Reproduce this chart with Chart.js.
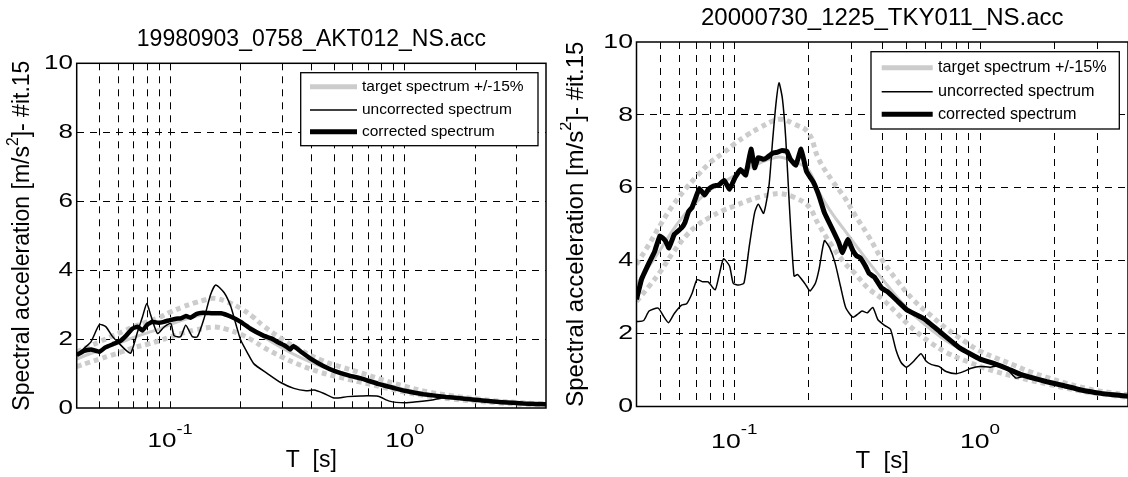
<!DOCTYPE html>
<html>
<head>
<meta charset="utf-8">
<script src="https://cdn.jsdelivr.net/npm/chart.js@4.4.1/dist/chart.umd.min.js"></script>
<style>
html, body { margin: 0; padding: 0; background: #fff; }
#wrap { position: relative; width: 1128px; height: 477px; overflow: hidden; }
.box { position: absolute; top: 0; height: 477px; }
</style>
</head>
<body>
<div id="wrap">
  <div class="box" style="left:0; width:560px"><canvas id="chartL"></canvas></div>
  <div class="box" style="left:560px; width:568px"><canvas id="chartR"></canvas></div>
</div>
<script>
// --- axes (shared) ---
const gridTicksX = [0.05, 0.06, 0.07, 0.08, 0.09, 0.1, 0.2, 0.3, 0.4, 0.5, 0.6, 0.7, 0.8, 0.9, 1, 2, 3];
const gridTicksY = [2, 4, 6, 8];
const yTickLabels = [0, 2, 4, 6, 8, 10];
const xDecades = [-1, 0];
const legendLabels = ['target spectrum +/-15%', 'uncorrected spectrum', 'corrected spectrum'];

// --- left plot : 19980903_0758_AKT012_NS.acc ---
const titleL = '19980903_0758_AKT012_NS.acc';
const periodsTargetL = [0.04, 0.045, 0.05, 0.056, 0.063, 0.07, 0.08, 0.09, 0.1, 0.113, 0.127, 0.142, 0.155, 0.175, 0.2, 0.225, 0.25, 0.3, 0.36, 0.44, 0.53, 0.65, 0.8, 1.0, 1.25, 1.6, 2.0, 2.5, 3.2, 4.0];
const upperL = [1.63, 1.78, 1.92, 2.07, 2.22, 2.36, 2.5, 2.63, 2.78, 2.93, 3.05, 3.14, 3.18, 3.08, 2.89, 2.65, 2.38, 2.0, 1.68, 1.39, 1.2, 1.02, 0.82, 0.63, 0.47, 0.35, 0.27, 0.2, 0.15, 0.12];
const targetL = [1.42, 1.56, 1.67, 1.8, 1.93, 2.05, 2.18, 2.29, 2.42, 2.55, 2.65, 2.73, 2.76, 2.68, 2.51, 2.3, 2.07, 1.74, 1.46, 1.21, 1.04, 0.88, 0.71, 0.54, 0.41, 0.3, 0.23, 0.17, 0.13, 0.1];
const lowerL = [1.2, 1.32, 1.42, 1.53, 1.64, 1.75, 1.85, 1.95, 2.06, 2.17, 2.26, 2.32, 2.35, 2.28, 2.14, 1.96, 1.76, 1.48, 1.24, 1.03, 0.89, 0.75, 0.61, 0.46, 0.35, 0.26, 0.2, 0.15, 0.11, 0.09];
const periodsCorrL = [0.04, 0.043, 0.046, 0.05, 0.053, 0.057, 0.061, 0.065, 0.069, 0.0727, 0.0763, 0.08, 0.084, 0.089, 0.094, 0.1, 0.106, 0.111, 0.117, 0.122, 0.13, 0.138, 0.15, 0.165, 0.18, 0.2, 0.22, 0.25, 0.27, 0.29, 0.31, 0.325, 0.335, 0.36, 0.4, 0.45, 0.5, 0.58, 0.65, 0.77, 0.9, 1.0, 1.2, 1.5, 1.8, 2.2, 2.6, 3.2, 4.0];
const corrL = [1.54, 1.66, 1.7, 1.63, 1.76, 1.85, 1.93, 2.1, 2.3, 2.36, 2.25, 2.42, 2.5, 2.47, 2.5, 2.55, 2.59, 2.6, 2.67, 2.62, 2.73, 2.76, 2.75, 2.75, 2.66, 2.5, 2.3, 2.1, 2.02, 1.9, 1.8, 1.7, 1.8, 1.64, 1.42, 1.22, 1.08, 0.94, 0.86, 0.7, 0.58, 0.5, 0.4, 0.32, 0.27, 0.21, 0.17, 0.13, 0.11];
const periodsUncL = [0.04, 0.043, 0.046, 0.05, 0.0532, 0.0569, 0.0607, 0.0648, 0.068, 0.0727, 0.0763, 0.0796, 0.0828, 0.0884, 0.0943, 0.1007, 0.104, 0.111, 0.1166, 0.1245, 0.1308, 0.1396, 0.149, 0.1565, 0.1698, 0.1813, 0.1904, 0.2, 0.2136, 0.2277, 0.26, 0.296, 0.337, 0.38, 0.41, 0.45, 0.5, 0.57, 0.65, 0.77, 0.86, 1.0, 1.13, 1.33, 1.5, 1.8, 2.2, 2.6, 3.2, 4.0];
const uncL = [1.54, 1.73, 1.92, 2.42, 2.36, 2.07, 1.87, 1.68, 1.59, 2.21, 2.65, 3.03, 2.68, 2.16, 2.35, 2.45, 2.1, 2.07, 2.4, 2.07, 2.07, 2.6, 3.3, 3.57, 3.35, 2.95, 2.45, 1.97, 1.6, 1.28, 1.0, 0.74, 0.57, 0.5, 0.52, 0.43, 0.29, 0.33, 0.35, 0.34, 0.2, 0.15, 0.18, 0.24, 0.31, 0.27, 0.21, 0.17, 0.13, 0.11];

// --- right plot : 20000730_1225_TKY011_NS.acc ---
const titleR = '20000730_1225_TKY011_NS.acc';
const periodsTargetR = [0.04, 0.045, 0.05, 0.056, 0.063, 0.07, 0.08, 0.09, 0.1, 0.113, 0.127, 0.142, 0.155, 0.175, 0.2, 0.22, 0.25, 0.28, 0.31, 0.35, 0.4, 0.46, 0.54, 0.63, 0.73, 0.86, 1.0, 1.17, 1.37, 1.6, 1.87, 2.18, 2.55, 2.97, 3.48, 4.0];
const upperR = [3.9, 4.45, 4.98, 5.5, 5.95, 6.3, 6.7, 6.95, 7.2, 7.45, 7.65, 7.82, 7.88, 7.75, 7.52, 6.8, 6.2, 5.75, 5.25, 4.7, 4.02, 3.45, 2.9, 2.5, 2.14, 1.8, 1.52, 1.32, 1.14, 0.95, 0.8, 0.66, 0.54, 0.44, 0.37, 0.32];
const targetR = [3.35, 3.85, 4.3, 4.82, 5.28, 5.6, 5.95, 6.15, 6.33, 6.52, 6.68, 6.8, 6.84, 6.72, 6.5, 5.9, 5.3, 4.85, 4.45, 3.98, 3.5, 3.0, 2.5, 2.12, 1.8, 1.53, 1.31, 1.13, 0.98, 0.83, 0.71, 0.59, 0.48, 0.4, 0.33, 0.28];
const lowerR = [2.88, 3.3, 3.7, 4.2, 4.65, 4.95, 5.2, 5.38, 5.5, 5.64, 5.75, 5.82, 5.84, 5.74, 5.5, 5.0, 4.4, 3.95, 3.65, 3.25, 2.95, 2.55, 2.1, 1.75, 1.48, 1.27, 1.1, 0.95, 0.83, 0.72, 0.62, 0.52, 0.43, 0.36, 0.3, 0.25];
const periodsCorrR = [0.04, 0.042, 0.045, 0.0474, 0.0498, 0.0524, 0.0542, 0.057, 0.061, 0.063, 0.0652, 0.0673, 0.0697, 0.072, 0.0757, 0.0783, 0.0823, 0.0866, 0.091, 0.0957, 0.1007, 0.1059, 0.1113, 0.117, 0.121, 0.1252, 0.1316, 0.136, 0.143, 0.1504, 0.1556, 0.1636, 0.1692, 0.178, 0.187, 0.1967, 0.21, 0.2212, 0.2326, 0.2488, 0.266, 0.2752, 0.2895, 0.3043, 0.3147, 0.3255, 0.342, 0.3538, 0.3718, 0.3976, 0.42, 0.46, 0.504, 0.55, 0.588, 0.687, 0.829, 1.0, 1.15, 1.28, 1.46, 1.87, 2.2, 2.55, 3.1, 3.5, 4.0];
const corrR = [2.94, 3.5, 3.94, 4.25, 4.68, 4.55, 4.35, 4.72, 4.9, 5.05, 5.35, 5.46, 5.73, 5.98, 5.8, 5.95, 6.05, 6.08, 6.2, 5.96, 6.28, 6.5, 6.35, 7.06, 6.55, 6.83, 6.78, 6.83, 6.95, 6.98, 7.02, 7.0, 6.78, 6.62, 7.06, 6.45, 6.15, 5.78, 5.32, 4.91, 4.5, 4.22, 4.58, 4.27, 4.13, 4.08, 3.85, 3.65, 3.55, 3.25, 3.15, 2.9, 2.65, 2.52, 2.42, 2.05, 1.6, 1.3, 1.17, 1.05, 0.88, 0.68, 0.57, 0.46, 0.36, 0.32, 0.28];
const periodsUncR = [0.04, 0.0428, 0.045, 0.049, 0.0515, 0.054, 0.057, 0.061, 0.064, 0.0673, 0.0705, 0.0745, 0.0783, 0.0835, 0.0866, 0.0904, 0.0957, 0.099, 0.1041, 0.1095, 0.1151, 0.121, 0.1252, 0.1316, 0.1384, 0.143, 0.148, 0.152, 0.157, 0.162, 0.1676, 0.175, 0.181, 0.19, 0.197, 0.2035, 0.214, 0.2212, 0.2326, 0.2445, 0.257, 0.2705, 0.2845, 0.3043, 0.32, 0.331, 0.348, 0.366, 0.384, 0.41, 0.432, 0.455, 0.478, 0.502, 0.537, 0.575, 0.604, 0.635, 0.68, 0.727, 0.8, 0.857, 0.92, 1.0, 1.1, 1.2, 1.3, 1.4, 1.5, 1.87, 2.2, 2.55, 3.1, 3.5, 4.0];
const uncR = [2.33, 2.36, 2.62, 2.7, 2.48, 2.3, 2.55, 2.78, 2.82, 3.1, 3.48, 3.42, 3.42, 3.2, 3.58, 4.05, 3.85, 3.38, 3.33, 3.39, 4.4, 5.32, 5.55, 5.3, 6.06, 7.25, 8.35, 8.88, 8.44, 7.34, 5.5, 3.58, 3.62, 3.45, 3.3, 3.17, 3.39, 3.76, 4.55, 4.35, 3.94, 3.3, 2.7, 2.45, 2.55, 2.62, 2.57, 2.72, 2.38, 2.22, 2.12, 1.55, 1.2, 1.08, 1.24, 1.45, 1.24, 1.15, 1.1, 0.96, 0.9, 0.96, 1.05, 1.1, 1.08, 1.12, 1.0, 0.78, 0.82, 0.68, 0.57, 0.46, 0.36, 0.32, 0.28];

const FONT = '"Liberation Sans", Arial, Helvetica, sans-serif';
const GRAY = '#cccccc';

function toPoints(xs, ys) {
    return xs.map((x, i) => ({ x: x, y: ys[i] }));
}

function drawText(ctx, txt, x, y, size, align, baseline, sx) {
    ctx.save();
    ctx.font = size + 'px ' + FONT;
    ctx.textAlign = align;
    ctx.textBaseline = baseline;
    ctx.translate(x, y);
    ctx.scale(sx || 1, 1);
    ctx.fillText(txt, 0, 0);
    ctx.restore();
}

function textWidth(ctx, txt, size) {
    ctx.font = size + 'px ' + FONT;
    return ctx.measureText(txt).width;
}

// le plugin qui dessine le cadre, les libelles et la legende facon matlab
const matlabFrame = {
    id: 'matlabFrame',
    afterDraw(chart, args, o) {
        const ctx = chart.ctx;
        const a = chart.chartArea;
        const xs = chart.scales.x;
        const ys = chart.scales.y;
        ctx.save();
        ctx.fillStyle = '#000';

        // cadre
        ctx.strokeStyle = '#000';
        ctx.lineWidth = 1.5;
        ctx.setLineDash([]);
        ctx.strokeRect(a.left, a.top, a.right - a.left, a.bottom - a.top);

        // graduations y
        yTickLabels.forEach(v => {
            drawText(ctx, String(v), o.yTickRight, ys.getPixelForValue(v), o.tickSize, 'right', 'middle', o.tickStretch);
        });

        // graduations x : 10^-1, 10^0
        xDecades.forEach(d => {
            const cx = xs.getPixelForValue(Math.pow(10, d));
            const exp = String(d);
            const w1 = textWidth(ctx, '10', o.tickSize) * o.tickStretch;
            const w2 = textWidth(ctx, exp, o.expSize) * o.tickStretch;
            const x0 = cx - (w1 + w2) / 2;
            drawText(ctx, '10', x0, o.xTickBase, o.tickSize, 'left', 'alphabetic', o.tickStretch);
            drawText(ctx, exp, x0 + w1, o.xTickBase - o.expRaise, o.expSize, 'left', 'alphabetic', o.tickStretch);
        });

        // titre et label x
        const midX = (a.left + a.right) / 2;
        drawText(ctx, o.title, midX, o.titleY, o.titleSize, 'center', 'middle', 1);
        drawText(ctx, 'T  [s]', midX, o.xLabelY, o.labelSize, 'center', 'middle', 1);

        // label y (vertical, avec exposant)
        const parts = [
            { t: 'Spectral acceleration [m/s', s: o.labelSize, dy: 0 },
            { t: '2', s: o.labelSize * 0.68, dy: -o.labelSize * 0.4 },
            { t: ']- #it.15', s: o.labelSize, dy: 0 }
        ];
        const total = parts.reduce((acc, p) => acc + textWidth(ctx, p.t, p.s), 0);
        ctx.save();
        ctx.translate(o.yLabelX, (a.top + a.bottom) / 2);
        ctx.rotate(-Math.PI / 2);
        let px = -total / 2;
        parts.forEach(p => {
            drawText(ctx, p.t, px, p.dy, p.s, 'left', 'middle', 1);
            px += textWidth(ctx, p.t, p.s);
        });
        ctx.restore();

        // legende
        const L = o.legend;
        ctx.fillStyle = '#fff';
        ctx.fillRect(L.x, L.y, L.w, L.h);
        ctx.strokeStyle = '#000';
        ctx.lineWidth = 1.3;
        ctx.strokeRect(L.x, L.y, L.w, L.h);
        const styles = [
            { c: GRAY, w: 5 },
            { c: '#000', w: 1.6 },
            { c: '#000', w: 5 }
        ];
        legendLabels.forEach((lab, i) => {
            const yy = L.y + L.rows[i];
            ctx.strokeStyle = styles[i].c;
            ctx.lineWidth = styles[i].w;
            ctx.beginPath();
            ctx.moveTo(L.x + L.s0, yy);
            ctx.lineTo(L.x + L.s1, yy);
            ctx.stroke();
            ctx.fillStyle = '#000';
            drawText(ctx, lab, L.x + L.tx, yy, L.size, 'left', 'middle', 1);
        });

        ctx.restore();
    }
};

function makeChart(id, d) {
    const ctx = document.getElementById(id).getContext('2d');
    return new Chart(ctx, {
        type: 'line',
        data: {
            datasets: [
                { label: 'corrected', data: toPoints(d.tc, d.corr), borderColor: '#000', borderWidth: d.thick, tension: 0.1 },
                { label: 'uncorrected', data: toPoints(d.tu, d.unc), borderColor: '#000', borderWidth: 1.5, tension: 0.2 },
                { label: 'target', data: toPoints(d.tt, d.target), borderColor: GRAY, borderWidth: 3, tension: 0.4 },
                { label: '+15%', data: toPoints(d.tt, d.upper), borderColor: GRAY, borderWidth: 5, borderDash: [5, 4], tension: 0.4 },
                { label: '-15%', data: toPoints(d.tt, d.lower), borderColor: GRAY, borderWidth: 5, borderDash: [5, 4], tension: 0.4 }
            ]
        },
        options: {
            responsive: true,
            maintainAspectRatio: false,
            animation: false,
            devicePixelRatio: 1,
            parsing: true,
            elements: { point: { radius: 0 }, line: { borderCapStyle: 'butt', borderJoinStyle: 'round', fill: false } },
            layout: { padding: { top: d.top, right: d.right, left: 0, bottom: 0 } },
            scales: {
                x: {
                    type: 'logarithmic',
                    min: 0.04,
                    max: 4,
                    afterBuildTicks: s => { s.ticks = gridTicksX.map(v => ({ value: v })); },
                    afterFit: s => { s.height = d.xAxisH; },
                    ticks: { display: false },
                    grid: { color: '#000', lineWidth: 1, drawTicks: false },
                    border: { display: false, dash: [7, 6] }
                },
                y: {
                    type: 'linear',
                    min: 0,
                    max: 10,
                    afterBuildTicks: s => { s.ticks = gridTicksY.map(v => ({ value: v })); },
                    afterFit: s => { s.width = d.yAxisW; },
                    ticks: { display: false },
                    grid: { color: '#000', lineWidth: 1, drawTicks: false },
                    border: { display: false, dash: [7, 6] }
                }
            },
            plugins: {
                legend: { display: false },
                tooltip: { enabled: false },
                matlabFrame: d.frame
            }
        },
        plugins: [matlabFrame]
    });
}

makeChart('chartL', {
    tt: periodsTargetL, upper: upperL, target: targetL, lower: lowerL,
    tc: periodsCorrL, corr: corrL, tu: periodsUncL, unc: uncL,
    thick: 4.5, top: 63.3, right: 14, yAxisW: 76.7, xAxisH: 69,
    frame: {
        title: titleL, titleY: 40, titleSize: 23,
        tickSize: 20, tickStretch: 1.3, expSize: 14, expRaise: 13,
        yTickRight: 73, xTickBase: 447, xLabelY: 461, labelSize: 23, yLabelX: 23,
        legend: { x: 300.7, y: 72.7, w: 237.3, h: 73, s0: 9.3, s1: 56.3, tx: 61.3, rows: [14, 37.3, 59], size: 15.5 }
    }
});

makeChart('chartR', {
    tt: periodsTargetR, upper: upperR, target: targetR, lower: lowerR,
    tc: periodsCorrR, corr: corrR, tu: periodsUncR, unc: uncR,
    thick: 5, top: 42, right: 0, yAxisW: 76.5, xAxisH: 70.5,
    frame: {
        title: titleR, titleY: 18, titleSize: 24,
        tickSize: 20.5, tickStretch: 1.3, expSize: 14.5, expRaise: 14,
        yTickRight: 73, xTickBase: 448, xLabelY: 461, labelSize: 24, yLabelX: 16,
        legend: { x: 311, y: 51.7, w: 248.3, h: 77.3, s0: 10.7, s1: 61.7, tx: 67, rows: [16, 40, 62.6], size: 16.2 }
    }
});
</script>
</body>
</html>
